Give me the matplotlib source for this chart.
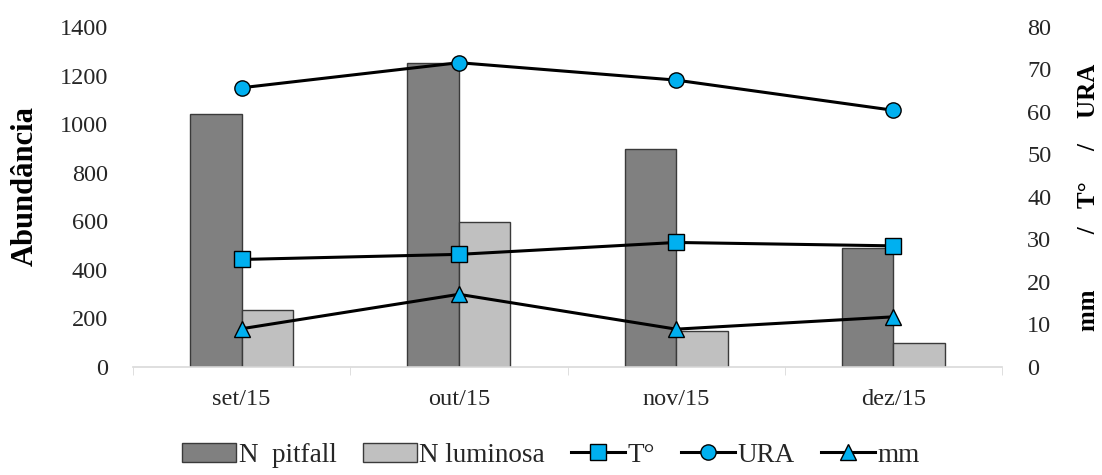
import matplotlib.pyplot as plt
import numpy as np
from matplotlib.patches import Patch
from matplotlib.lines import Line2D

meses = ["set/15", "out/15", "nov/15", "dez/15"]
n_pitfall = [1042, 1252, 898, 488]
n_luminosa = [235, 596, 150, 98]
temperatura = [25.3, 26.5, 29.3, 28.5]
ura = [65.7, 71.6, 67.5, 60.4]
mm = [9.0, 17.1, 8.9, 11.8]

cor_pitfall = "#808080"
cor_luminosa = "#c0c0c0"
cor_marcador = "#00b0f0"
cor_borda = "#3a3a3a"
cor_texto = "#262626"

plt.rcParams["font.family"] = ["Liberation Serif", "DejaVu Serif"]

fig = plt.figure(figsize=(11.02, 4.75), dpi=100)
ax = fig.add_axes([0.1207, 0.2274, 0.7886, 0.7158])

x = np.arange(len(meses))
w = 0.237

ax.bar(x - w / 2, n_pitfall, w, color=cor_pitfall, edgecolor=cor_borda, linewidth=1, zorder=2)
ax.bar(x + w / 2, n_luminosa, w, color=cor_luminosa, edgecolor=cor_borda, linewidth=1, zorder=2)

ax.set_xlim(-0.5, len(meses) - 0.5)
ax.set_ylim(0, 1400)
ax.set_yticks(range(0, 1401, 200))
ax.set_xticks(x)
ax.set_xticklabels(meses)
ax.set_xticks(np.arange(-0.5, len(meses), 1), minor=True)
ax.tick_params(axis="x", which="major", length=0, pad=16, labelsize=17.5, labelcolor=cor_texto)
ax.tick_params(axis="x", which="minor", length=6, color="#d9d9d9", direction="out")
ax.tick_params(axis="y", length=0, pad=18, labelsize=17.5, labelcolor=cor_texto)
for s in ["top", "left", "right"]:
    ax.spines[s].set_visible(False)
ax.spines["bottom"].set_color("#d9d9d9")
ax.spines["bottom"].set_linewidth(1.2)
ax.set_ylabel("Abundância", fontsize=22, fontweight="bold", va="center")
ax.yaxis.set_label_coords(-0.124, 0.532)

ax2 = ax.twinx()
ax2.set_ylim(0, 80)
ax2.set_yticks(range(0, 81, 10))
ax2.tick_params(axis="y", length=0, pad=18, labelsize=17.5, labelcolor=cor_texto)
for s in ax2.spines.values():
    s.set_visible(False)

estilo = dict(color="black", linewidth=2.2, markerfacecolor=cor_marcador,
              markeredgecolor="black", markeredgewidth=1.0)
ax2.plot(x, temperatura, marker="s", markersize=11.5, zorder=3, **estilo)
ax2.plot(x, ura, marker="o", markersize=11, zorder=3, **estilo)
ax2.plot(x, mm, marker="^", markersize=12, zorder=3, **estilo)
ax2.set_ylabel("mm         /   T°     /    URA", fontsize=18, fontweight="bold", va="center")
ax2.yaxis.set_label_coords(1.0995, 0.5)

handles = [
    Patch(facecolor=cor_pitfall, edgecolor=cor_borda, label="N  pitfall"),
    Patch(facecolor=cor_luminosa, edgecolor=cor_borda, label="N luminosa"),
    Line2D([], [], marker="s", markersize=11.5, label="T°", **estilo),
    Line2D([], [], marker="o", markersize=11, label="URA", **estilo),
    Line2D([], [], marker="^", markersize=12, label="mm", **estilo),
]
fig.legend(handles=handles, loc="center", bbox_to_anchor=(0.5, 0.042), ncol=5,
           frameon=False, fontsize=19.5, handlelength=2.0, handletextpad=0.1,
           columnspacing=0.95, labelcolor=cor_texto)

fig.savefig("out.png", dpi=100)
